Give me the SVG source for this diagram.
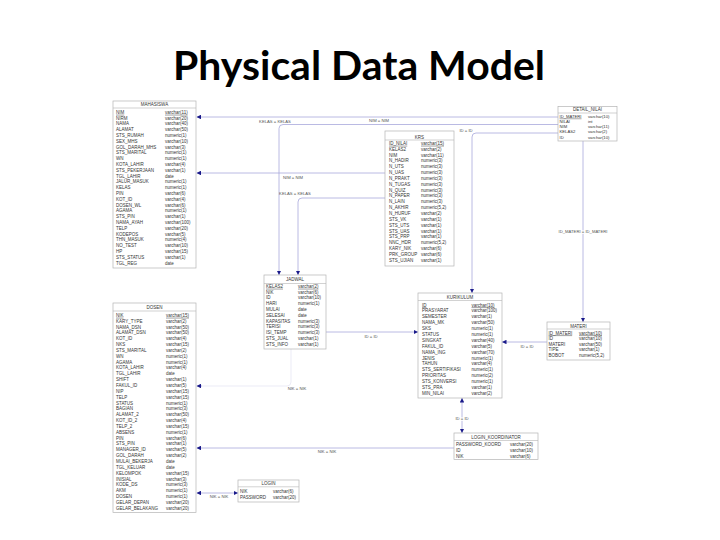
<svg xmlns="http://www.w3.org/2000/svg" width="720" height="540" viewBox="0 0 720 540">
<style>
.box{fill:#fff;stroke:#b4b4b4;stroke-width:0.7}
.sep{stroke:#b4b4b4;stroke-width:0.6}
.h{font-family:"Liberation Sans",Arial,sans-serif;font-size:4.5px;fill:#333;text-anchor:middle}
.f{font-family:"Liberation Sans",Arial,sans-serif;font-size:4.5px;fill:#333}
.s{font-size:4.2px}
.pk{text-decoration:underline}
.c{fill:none;stroke:#a8a8dc;stroke-width:0.8}
.cf{fill:none;stroke:#e2e2f2;stroke-width:0.7}
.l{font-family:"Liberation Sans",Arial,sans-serif;font-size:4.2px;fill:#555;text-anchor:middle}
.halo{paint-order:stroke;stroke:#fff;stroke-width:2px}
.title{font-family:Lato,"Liberation Sans",sans-serif;font-weight:bold;font-size:40px;fill:#000}
</style>
<defs>
<marker id="a" viewBox="0 0 6 6" refX="6" refY="3" markerWidth="4.5" markerHeight="4.5" markerUnits="userSpaceOnUse" orient="auto-start-reverse"><path d="M0,0L6,3L0,6z" fill="#1a1a8a"/></marker>
</defs>
<rect width="720" height="540" fill="#fff"/>
<text class="title" x="173" y="80" textLength="372" lengthAdjust="spacingAndGlyphs">Physical Data Model</text>

<g id="connectors">
<path class="c" d="M558,117 H196.5" marker-end="url(#a)"/>
<text class="l" x="379" y="121.8">NIM = NIM</text>
<path class="c" d="M558,124.5 H283 Q279,124.5 279,128.5 V275" marker-end="url(#a)"/>
<text class="l" x="275" y="123">KELAS = KELAS</text>
<path class="c" d="M385,173 H196.5" marker-end="url(#a)"/>
<text class="l" x="293" y="178.5">NIM = NIM</text>
<path class="c" d="M385,198 H302 Q298,198 298,202 V275" marker-end="url(#a)"/>
<text class="l" x="295" y="194.5">KELAS = KELAS</text>
<path class="c" d="M558,133 H476 Q472,133 472,137 V293" marker-end="url(#a)"/>
<text class="l" x="466" y="131.5">ID = ID</text>
<path class="c" d="M583,141 V322" marker-end="url(#a)"/>
<text class="l halo" x="583" y="232.5">ID_MATERI = ID_MATERI</text>
<path class="c" d="M326,332 H418" marker-end="url(#a)"/>
<text class="l" x="371" y="338">ID = ID</text>
<path class="c" d="M547,342 H502" marker-end="url(#a)"/>
<text class="l" x="527" y="348">ID = ID</text>
<path class="cf" d="M291,349 V382 Q291,386 287,386 H200"/>
<path class="c" d="M202,386 H196.5" marker-end="url(#a)"/>
<text class="l" x="297" y="390">NIK = NIK</text>
<path class="c" d="M454,448 H196.5" marker-end="url(#a)"/>
<text class="l" x="327" y="452.8">NIK = NIK</text>
<path class="c" d="M196.5,493 H238" marker-start="url(#a)" marker-end="url(#a)"/>
<text class="l" x="219" y="497.5">NIK = NIK</text>
<path class="c" d="M462,398 V433" marker-start="url(#a)" marker-end="url(#a)"/>
<text class="l halo" x="462" y="419.5">ID = ID</text>
</g>

<g id="mahasiswa">
<rect class="box" x="113" y="101" width="83" height="167"/>
<line class="sep" x1="113" y1="108" x2="196" y2="108"/>
<text class="h" x="154.5" y="106.2">MAHASISWA</text>
<text class="f"><tspan x="116" y="113.8" class="pk">NIM</tspan><tspan x="116" dy="5.8">NIRM</tspan><tspan x="116" dy="5.8">NAMA</tspan><tspan x="116" dy="5.8">ALAMAT</tspan><tspan x="116" dy="5.8">STS_RUMAH</tspan><tspan x="116" dy="5.8">SEX_MHS</tspan><tspan x="116" dy="5.8">GOL_DARAH_MHS</tspan><tspan x="116" dy="5.8">STS_MARITAL</tspan><tspan x="116" dy="5.8">WN</tspan><tspan x="116" dy="5.8">KOTA_LAHIR</tspan><tspan x="116" dy="5.8">STS_PEKERJAAN</tspan><tspan x="116" dy="5.8">TGL_LAHIR</tspan><tspan x="116" dy="5.8">JALUR_MASUK</tspan><tspan x="116" dy="5.8">KELAS</tspan><tspan x="116" dy="5.8">PIN</tspan><tspan x="116" dy="5.8">KOT_ID</tspan><tspan x="116" dy="5.8">DOSEN_WL</tspan><tspan x="116" dy="5.8">AGAMA</tspan><tspan x="116" dy="5.8">STS_PIN</tspan><tspan x="116" dy="5.8">NAMA_AYAH</tspan><tspan x="116" dy="5.8">TELP</tspan><tspan x="116" dy="5.8">KODEPOS</tspan><tspan x="116" dy="5.8">THN_MASUK</tspan><tspan x="116" dy="5.8">NO_TEST</tspan><tspan x="116" dy="5.8">HP</tspan><tspan x="116" dy="5.8">STS_STATUS</tspan><tspan x="116" dy="5.8">TGL_REG</tspan></text>
<text class="f"><tspan x="165" y="113.8" class="pk">varchar(11)</tspan><tspan x="165" dy="5.8">varchar(20)</tspan><tspan x="165" dy="5.8">varchar(40)</tspan><tspan x="165" dy="5.8">varchar(50)</tspan><tspan x="165" dy="5.8">numeric(1)</tspan><tspan x="165" dy="5.8">varchar(10)</tspan><tspan x="165" dy="5.8">varchar(3)</tspan><tspan x="165" dy="5.8">numeric(1)</tspan><tspan x="165" dy="5.8">numeric(1)</tspan><tspan x="165" dy="5.8">varchar(4)</tspan><tspan x="165" dy="5.8">varchar(1)</tspan><tspan x="165" dy="5.8">date</tspan><tspan x="165" dy="5.8">numeric(1)</tspan><tspan x="165" dy="5.8">numeric(1)</tspan><tspan x="165" dy="5.8">varchar(6)</tspan><tspan x="165" dy="5.8">varchar(4)</tspan><tspan x="165" dy="5.8">varchar(6)</tspan><tspan x="165" dy="5.8">numeric(1)</tspan><tspan x="165" dy="5.8">varchar(1)</tspan><tspan x="165" dy="5.8">varchar(100)</tspan><tspan x="165" dy="5.8">varchar(20)</tspan><tspan x="165" dy="5.8">varchar(5)</tspan><tspan x="165" dy="5.8">numeric(4)</tspan><tspan x="165" dy="5.8">varchar(10)</tspan><tspan x="165" dy="5.8">varchar(15)</tspan><tspan x="165" dy="5.8">varchar(1)</tspan><tspan x="165" dy="5.8">date</tspan></text>
</g>

<g id="dosen">
<rect class="box" x="113" y="303" width="83" height="209.5"/>
<line class="sep" x1="113" y1="311" x2="196" y2="311"/>
<text class="h" x="154.5" y="309.3">DOSEN</text>
<text class="f"><tspan x="116" y="316.8" class="pk">NIK</tspan><tspan x="116" dy="5.85">KARY_TYPE</tspan><tspan x="116" dy="5.85">NAMA_DSN</tspan><tspan x="116" dy="5.85">ALAMAT_DSN</tspan><tspan x="116" dy="5.85">KOT_ID</tspan><tspan x="116" dy="5.85">NKS</tspan><tspan x="116" dy="5.85">STS_MARITAL</tspan><tspan x="116" dy="5.85">WN</tspan><tspan x="116" dy="5.85">AGAMA</tspan><tspan x="116" dy="5.85">KOTA_LAHIR</tspan><tspan x="116" dy="5.85">TGL_LAHIR</tspan><tspan x="116" dy="5.85">SHIFT</tspan><tspan x="116" dy="5.85">FAKUL_ID</tspan><tspan x="116" dy="5.85">NIP</tspan><tspan x="116" dy="5.85">TELP</tspan><tspan x="116" dy="5.85">STATUS</tspan><tspan x="116" dy="5.85">BAGIAN</tspan><tspan x="116" dy="5.85">ALAMAT_2</tspan><tspan x="116" dy="5.85">KOT_ID_2</tspan><tspan x="116" dy="5.85">TELP_2</tspan><tspan x="116" dy="5.85">ABSENS</tspan><tspan x="116" dy="5.85">PIN</tspan><tspan x="116" dy="5.85">STS_PIN</tspan><tspan x="116" dy="5.85">MANAGER_ID</tspan><tspan x="116" dy="5.85">GOL_DARAH</tspan><tspan x="116" dy="5.85">MULAI_BEKERJA</tspan><tspan x="116" dy="5.85">TGL_KELUAR</tspan><tspan x="116" dy="5.85">KELOMPOK</tspan><tspan x="116" dy="5.85">INISIAL</tspan><tspan x="116" dy="5.85">KODE_DS</tspan><tspan x="116" dy="5.85">AKM</tspan><tspan x="116" dy="5.85">DOSEN</tspan><tspan x="116" dy="5.85">GELAR_DEPAN</tspan><tspan x="116" dy="5.85">GELAR_BELAKANG</tspan></text>
<text class="f"><tspan x="166" y="316.8" class="pk">varchar(15)</tspan><tspan x="166" dy="5.85">varchar(2)</tspan><tspan x="166" dy="5.85">varchar(50)</tspan><tspan x="166" dy="5.85">varchar(50)</tspan><tspan x="166" dy="5.85">varchar(4)</tspan><tspan x="166" dy="5.85">varchar(15)</tspan><tspan x="166" dy="5.85">varchar(2)</tspan><tspan x="166" dy="5.85">numeric(1)</tspan><tspan x="166" dy="5.85">numeric(1)</tspan><tspan x="166" dy="5.85">varchar(4)</tspan><tspan x="166" dy="5.85">date</tspan><tspan x="166" dy="5.85">varchar(1)</tspan><tspan x="166" dy="5.85">varchar(5)</tspan><tspan x="166" dy="5.85">varchar(15)</tspan><tspan x="166" dy="5.85">varchar(15)</tspan><tspan x="166" dy="5.85">numeric(1)</tspan><tspan x="166" dy="5.85">numeric(3)</tspan><tspan x="166" dy="5.85">varchar(50)</tspan><tspan x="166" dy="5.85">varchar(4)</tspan><tspan x="166" dy="5.85">varchar(15)</tspan><tspan x="166" dy="5.85">numeric(1)</tspan><tspan x="166" dy="5.85">varchar(6)</tspan><tspan x="166" dy="5.85">varchar(1)</tspan><tspan x="166" dy="5.85">varchar(5)</tspan><tspan x="166" dy="5.85">varchar(2)</tspan><tspan x="166" dy="5.85">date</tspan><tspan x="166" dy="5.85">date</tspan><tspan x="166" dy="5.85">varchar(15)</tspan><tspan x="166" dy="5.85">varchar(3)</tspan><tspan x="166" dy="5.85">numeric(3)</tspan><tspan x="166" dy="5.85">numeric(1)</tspan><tspan x="166" dy="5.85">numeric(1)</tspan><tspan x="166" dy="5.85">varchar(20)</tspan><tspan x="166" dy="5.85">varchar(20)</tspan></text>
</g>

<g id="krs">
<rect class="box" x="385" y="131" width="69" height="135"/>
<line class="sep" x1="385" y1="140" x2="454" y2="140"/>
<text class="h" x="419.5" y="138.6">KRS</text>
<text class="f"><tspan x="389" y="144.8" class="pk">ID_NILAI</tspan><tspan x="389" dy="5.85">KELAS2</tspan><tspan x="389" dy="5.85">NIM</tspan><tspan x="389" dy="5.85">N_HADIR</tspan><tspan x="389" dy="5.85">N_UTS</tspan><tspan x="389" dy="5.85">N_UAS</tspan><tspan x="389" dy="5.85">N_PRAKT</tspan><tspan x="389" dy="5.85">N_TUGAS</tspan><tspan x="389" dy="5.85">N_QUIZ</tspan><tspan x="389" dy="5.85">N_PAPER</tspan><tspan x="389" dy="5.85">N_LAIN</tspan><tspan x="389" dy="5.85">N_AKHIR</tspan><tspan x="389" dy="5.85">N_HURUF</tspan><tspan x="389" dy="5.85">STS_VK</tspan><tspan x="389" dy="5.85">STS_UTS</tspan><tspan x="389" dy="5.85">STS_UAS</tspan><tspan x="389" dy="5.85">STS_PRP</tspan><tspan x="389" dy="5.85">NNC_HDR</tspan><tspan x="389" dy="5.85">KARY_NIK</tspan><tspan x="389" dy="5.85">PRK_GROUP</tspan><tspan x="389" dy="5.85">STS_UJIAN</tspan></text>
<text class="f"><tspan x="421" y="144.8" class="pk">varchar(15)</tspan><tspan x="421" dy="5.85">varchar(2)</tspan><tspan x="421" dy="5.85">varchar(11)</tspan><tspan x="421" dy="5.85">numeric(3)</tspan><tspan x="421" dy="5.85">numeric(3)</tspan><tspan x="421" dy="5.85">numeric(3)</tspan><tspan x="421" dy="5.85">numeric(3)</tspan><tspan x="421" dy="5.85">numeric(3)</tspan><tspan x="421" dy="5.85">numeric(3)</tspan><tspan x="421" dy="5.85">numeric(3)</tspan><tspan x="421" dy="5.85">numeric(3)</tspan><tspan x="421" dy="5.85">numeric(5,2)</tspan><tspan x="421" dy="5.85">varchar(2)</tspan><tspan x="421" dy="5.85">varchar(1)</tspan><tspan x="421" dy="5.85">varchar(1)</tspan><tspan x="421" dy="5.85">varchar(1)</tspan><tspan x="421" dy="5.85">varchar(1)</tspan><tspan x="421" dy="5.85">numeric(5,2)</tspan><tspan x="421" dy="5.85">varchar(6)</tspan><tspan x="421" dy="5.85">varchar(6)</tspan><tspan x="421" dy="5.85">varchar(1)</tspan></text>
</g>

<g id="detail_nilai">
<rect class="box" x="558" y="106.5" width="59" height="34.5"/>
<line class="sep" x1="558" y1="113" x2="617" y2="113"/>
<text class="h" x="587.5" y="111.3">DETAIL_NILAI</text>
<text class="f s"><tspan x="559.5" y="117.7" class="pk">ID_MATERI</tspan><tspan x="559.5" dy="5.2">NILAI</tspan><tspan x="559.5" dy="5.2">NIM</tspan><tspan x="559.5" dy="5.2">KELAS2</tspan><tspan x="559.5" dy="5.2">ID</tspan></text>
<text class="f s"><tspan x="588" y="117.7">varchar(10)</tspan><tspan x="588" dy="5.2">int</tspan><tspan x="588" dy="5.2">varchar(11)</tspan><tspan x="588" dy="5.2">varchar(2)</tspan><tspan x="588" dy="5.2">varchar(10)</tspan></text>
</g>

<g id="jadwal">
<rect class="box" x="264" y="275" width="62" height="74"/>
<line class="sep" x1="264" y1="283.5" x2="326" y2="283.5"/>
<text class="h" x="295" y="281.3">JADWAL</text>
<text class="f"><tspan x="266" y="287.8" class="pk">KELAS2</tspan><tspan x="266" dy="5.8">NIK</tspan><tspan x="266" dy="5.8">ID</tspan><tspan x="266" dy="5.8">HARI</tspan><tspan x="266" dy="5.8">MULAI</tspan><tspan x="266" dy="5.8">SELESAI</tspan><tspan x="266" dy="5.8">KAPASITAS</tspan><tspan x="266" dy="5.8">TERISI</tspan><tspan x="266" dy="5.8">ISI_TEMP</tspan><tspan x="266" dy="5.8">STS_JUAL</tspan><tspan x="266" dy="5.8">STS_INFO</tspan></text>
<text class="f"><tspan x="298" y="287.8" class="pk">varchar(2)</tspan><tspan x="298" dy="5.8">varchar(6)</tspan><tspan x="298" dy="5.8">varchar(10)</tspan><tspan x="298" dy="5.8">numeric(1)</tspan><tspan x="298" dy="5.8">date</tspan><tspan x="298" dy="5.8">date</tspan><tspan x="298" dy="5.8">numeric(3)</tspan><tspan x="298" dy="5.8">numeric(3)</tspan><tspan x="298" dy="5.8">numeric(3)</tspan><tspan x="298" dy="5.8">varchar(1)</tspan><tspan x="298" dy="5.8">varchar(1)</tspan></text>
</g>

<g id="kurikulum">
<rect class="box" x="418" y="293" width="84" height="105"/>
<line class="sep" x1="418" y1="300.5" x2="502" y2="300.5"/>
<text class="h" x="460" y="298.6">KURIKULUM</text>
<text class="f"><tspan x="422" y="306.6" class="pk">ID</tspan><tspan x="422" dy="5.88">PRASYARAT</tspan><tspan x="422" dy="5.88">SEMESTER</tspan><tspan x="422" dy="5.88">NAMA_MK</tspan><tspan x="422" dy="5.88">SKS</tspan><tspan x="422" dy="5.88">STATUS</tspan><tspan x="422" dy="5.88">SINGKAT</tspan><tspan x="422" dy="5.88">FAKUL_ID</tspan><tspan x="422" dy="5.88">NAMA_ING</tspan><tspan x="422" dy="5.88">JENIS</tspan><tspan x="422" dy="5.88">TAHUN</tspan><tspan x="422" dy="5.88">STS_SERTIFIKASI</tspan><tspan x="422" dy="5.88">PRIORITAS</tspan><tspan x="422" dy="5.88">STS_KONVERSI</tspan><tspan x="422" dy="5.88">STS_PRA</tspan><tspan x="422" dy="5.88">MIN_NILAI</tspan></text>
<text class="f"><tspan x="471.5" y="306.6" class="pk">varchar(10)</tspan><tspan x="471.5" dy="5.88">varchar(100)</tspan><tspan x="471.5" dy="5.88">varchar(1)</tspan><tspan x="471.5" dy="5.88">varchar(50)</tspan><tspan x="471.5" dy="5.88">numeric(1)</tspan><tspan x="471.5" dy="5.88">numeric(1)</tspan><tspan x="471.5" dy="5.88">varchar(40)</tspan><tspan x="471.5" dy="5.88">varchar(5)</tspan><tspan x="471.5" dy="5.88">varchar(70)</tspan><tspan x="471.5" dy="5.88">numeric(1)</tspan><tspan x="471.5" dy="5.88">varchar(4)</tspan><tspan x="471.5" dy="5.88">numeric(1)</tspan><tspan x="471.5" dy="5.88">numeric(2)</tspan><tspan x="471.5" dy="5.88">numeric(1)</tspan><tspan x="471.5" dy="5.88">varchar(1)</tspan><tspan x="471.5" dy="5.88">varchar(2)</tspan></text>
</g>

<g id="materi">
<rect class="box" x="547" y="322" width="63" height="38"/>
<line class="sep" x1="547" y1="329" x2="610" y2="329"/>
<text class="h" x="578.5" y="327.6">MATERI</text>
<text class="f"><tspan x="548.5" y="334.6" class="pk">ID_MATERI</tspan><tspan x="548.5" dy="5.6">ID</tspan><tspan x="548.5" dy="5.6">MATERI</tspan><tspan x="548.5" dy="5.6">TIPE</tspan><tspan x="548.5" dy="5.6">BOBOT</tspan></text>
<text class="f"><tspan x="579" y="334.6" class="pk">varchar(10)</tspan><tspan x="579" dy="5.6">varchar(10)</tspan><tspan x="579" dy="5.6">varchar(50)</tspan><tspan x="579" dy="5.6">varchar(1)</tspan><tspan x="579" dy="5.6">numeric(5,2)</tspan></text>
</g>

<g id="login_koordinator">
<rect class="box" x="454" y="433" width="84" height="26.5"/>
<line class="sep" x1="454" y1="440.5" x2="538" y2="440.5"/>
<text class="h" x="496" y="438.5">LOGIN_KOORDINATOR</text>
<text class="f"><tspan x="456" y="446.3">PASSWORD_KOORD</tspan><tspan x="456" dy="5.7">ID</tspan><tspan x="456" dy="5.7">NIK</tspan></text>
<text class="f"><tspan x="510" y="446.3">varchar(20)</tspan><tspan x="510" dy="5.7">varchar(10)</tspan><tspan x="510" dy="5.7">varchar(6)</tspan></text>
</g>

<g id="login">
<rect class="box" x="238" y="480" width="61" height="22"/>
<line class="sep" x1="238" y1="486.8" x2="299" y2="486.8"/>
<text class="h" x="268.5" y="485.3">LOGIN</text>
<text class="f"><tspan x="240" y="492.5">NIK</tspan><tspan x="240" dy="6">PASSWORD</tspan></text>
<text class="f"><tspan x="273" y="492.5">varchar(6)</tspan><tspan x="273" dy="6">varchar(20)</tspan></text>
</g>
</svg>
